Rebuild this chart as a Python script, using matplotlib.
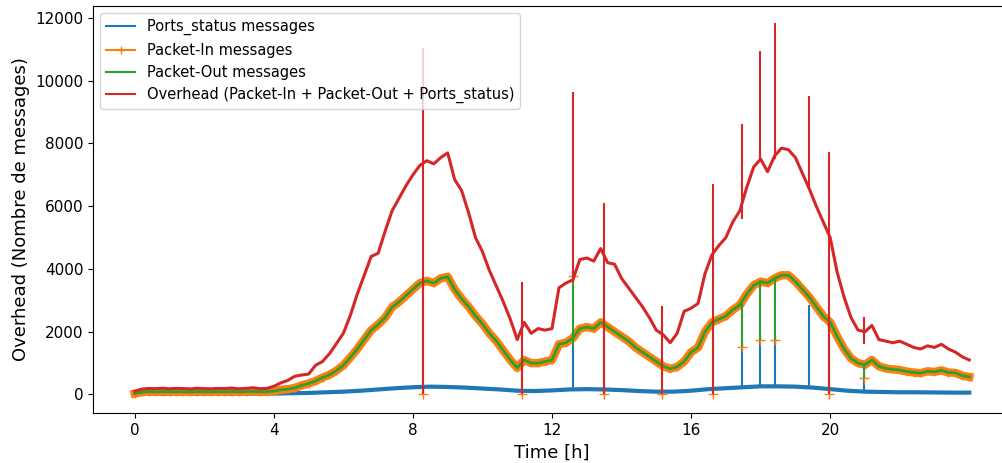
import matplotlib
matplotlib.use("Agg")
import matplotlib.pyplot as plt
import numpy as np

# time grid, one reading every 0.2 h (blue every 0.5 h)
time_h = np.round(np.arange(0, 24.01, 0.2), 1)
time_ports = np.arange(0, 24.01, 0.5)

packet_in = [30, 75, 90, 85, 95, 80, 90, 85, 80, 95,
             85, 80, 90, 85, 95, 80, 90, 100, 85, 90,
             110, 150, 170, 210, 290, 350, 430, 540, 630, 760,
             930, 1180, 1450, 1750, 2050, 2230, 2450, 2780, 2950, 3150,
             3350, 3550, 3620, 3550, 3700, 3750, 3350, 3050, 2800, 2500,
             2250, 1950, 1700, 1400, 1100, 850, 1100, 1000, 1000, 1050,
             1100, 1600, 1650, 1800, 2100, 2150, 2100, 2300, 2150, 2000,
             1850, 1700, 1500, 1350, 1200, 1050, 900, 820, 880, 1050,
             1350, 1500, 2000, 2300, 2400, 2500, 2700, 2850, 3200, 3480,
             3600, 3550, 3700, 3800, 3800, 3600, 3350, 3100, 2800, 2500,
             2300, 1850, 1450, 1150, 1000, 950, 1100, 900, 830, 800,
             780, 730, 700, 680, 740, 720, 770, 700, 690, 600,
             560]
# Packet-Out sits right on top of Packet-In
packet_out = packet_in

overhead = [100, 170, 190, 185, 200, 180, 195, 190, 175, 200,
            185, 180, 195, 190, 205, 180, 195, 215, 185, 195,
            260, 370, 450, 580, 620, 650, 930, 1050, 1300, 1620,
            1950, 2520, 3200, 3800, 4400, 4500, 5200, 5850, 6250, 6650,
            7000, 7300, 7450, 7350, 7550, 7700, 6850, 6500, 5800, 5000,
            4550, 3950, 3450, 2950, 2400, 1750, 2300, 1950, 2100, 2050,
            2100, 3400, 3550, 3650, 4300, 4350, 4250, 4650, 4200, 4150,
            3700, 3400, 3100, 2800, 2450, 2050, 1900, 1650, 1950, 2650,
            2750, 2900, 3850, 4450, 4750, 5000, 5500, 5850, 6600, 7250,
            7500, 7100, 7600, 7850, 7800, 7550, 7050, 6550, 6000, 5500,
            5000, 3900, 3100, 2450, 2050, 2000, 2200, 1750, 1700, 1650,
            1700, 1600, 1500, 1450, 1550, 1500, 1600, 1450, 1350, 1200,
            1100]

ports = [15, 20, 25, 20, 25, 20, 25, 25, 30, 40,
         50, 70, 90, 120, 160, 200, 230, 250, 240, 220,
         190, 160, 120, 110, 130, 160, 170, 160, 140, 110,
         90, 90, 120, 170, 200, 230, 260, 260, 250, 220,
         170, 120, 90, 80, 70, 70, 65, 60, 60]

# isolated samples (spikes): time, low end, high end
red_spike_t = [8.3, 11.15, 12.6, 13.5, 15.15, 16.63, 17.46, 17.97, 18.4, 19.39, 19.97, 20.96]
red_spike_lo = [0, 0, 3600, 0, 0, 0, 5600, 7400, 7500, 6600, 0, 1600]
red_spike_hi = [11050, 3600, 9640, 6100, 2830, 6720, 8620, 10960, 11840, 9520, 7730, 2480]

green_spike_t = [8.3, 11.15, 12.6, 13.5, 15.15, 16.63, 17.46, 17.97, 18.4, 19.97, 20.96]
green_spike_lo = [0, 0, 1570, 0, 0, 0, 1500, 1750, 1730, 0, 510]
green_spike_hi = [3600, 1100, 3790, 2250, 900, 2300, 2900, 3550, 3700, 2350, 950]

blue_spike_t = [12.6, 17.46, 17.97, 18.4, 19.39, 20.96]
blue_spike_lo = [150, 220, 250, 260, 230, 90]
blue_spike_hi = [1570, 1500, 1750, 1730, 2840, 510]

# Packet-In value at those isolated samples
pin_spike_t = [8.3, 11.15, 12.6, 13.5, 15.15, 16.63, 17.46, 17.97, 18.4, 19.97, 20.96]
pin_spike_v = [0, 0, 3790, 0, 0, 0, 1500, 1750, 1730, 0, 510]

fig = plt.figure(figsize=(10.03, 4.63), dpi=100)
ax = fig.add_axes([93/1003, 50/463, 918/1003, 407/463])

ax.plot(time_ports, ports, color='C0', lw=3, label='Ports_status messages', zorder=2)
ax.vlines(blue_spike_t, blue_spike_lo, blue_spike_hi, color='C0', lw=1.5, zorder=2)

# dense '+' markers in the original merge into a wide orange band
ax.plot(time_h, packet_in, color='C1', lw=6, solid_joinstyle='round', zorder=3)
ax.plot(time_h, packet_in, color='C1', marker='+', markersize=6, lw=1.5,
        label='Packet-In messages', zorder=3)
ax.plot(pin_spike_t, pin_spike_v, color='C1', marker='+', markersize=7, ls='none', zorder=3)

ax.plot(time_h, packet_out, color='C2', lw=2, label='Packet-Out messages', zorder=4)
ax.vlines(green_spike_t, green_spike_lo, green_spike_hi, color='C2', lw=1.5, zorder=4)

ax.plot(time_h, overhead, color='C3', lw=2.2,
        label='Overhead (Packet-In + Packet-Out + Ports_status)', zorder=5)
ax.vlines(red_spike_t, red_spike_lo, red_spike_hi, color='C3', lw=1.5, zorder=5)

ax.set_xlim(-1.2, 25.2)
ax.set_ylim(-590, 12380)
ax.set_xticks([0, 4, 8, 12, 16, 20])
ax.tick_params(labelsize=11)
ax.set_xlabel('Time [h]', fontsize=13)
ax.set_ylabel('Overhead (Nombre de messages)', fontsize=13)
leg = ax.legend(loc='upper left', fontsize=10.5)
for line in leg.get_lines():
    line.set_linewidth(1.5)

fig.savefig('out.png', dpi=100)
